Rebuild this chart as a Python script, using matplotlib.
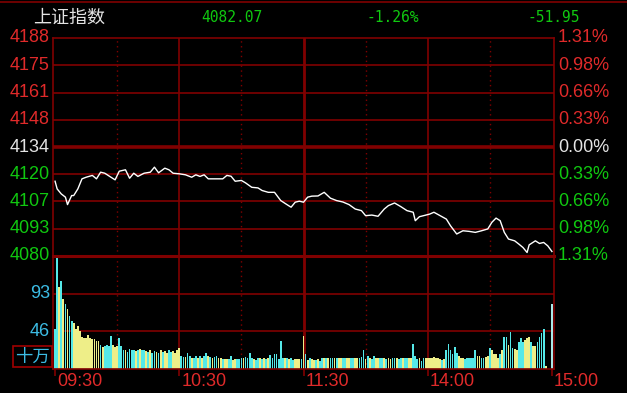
import numpy as np
import matplotlib.pyplot as plt
from matplotlib.patches import Rectangle
from matplotlib.lines import Line2D

plt.rcParams['font.family'] = ['Liberation Sans', 'DejaVu Sans']
# ================================================
# HEADER / AXIS TEXT
# ================================================
name      = '上证指数'
pre_close = 4134.02
pct_max   = 1.31
last_txt  = '4082.07'
pct_txt   = '-1.26%'
chg_txt   = '-51.95'

price_lbl = ['4188', '4175', '4161', '4148', '4134', '4120', '4107', '4093', '4080']
pct_lbl   = ['1.31%', '0.98%', '0.66%', '0.33%', '0.00%', '0.33%', '0.66%', '0.98%', '1.31%']
vol_lbl   = ['93', '46']
vol_unit  = '十万'
time_lbl  = ['09:30', '10:30', '11:30', '14:00', '15:00']
time_pos  = [0, 60, 120, 180, 240]     # minutes since open
# ================================================
# PRICE (minute, index level)
# ================================================
t_min = [0, 1, 3, 5, 6, 8, 9, 11, 13, 15,
         18, 20, 22, 24, 27, 29, 31, 34, 36, 38,
         40, 43, 46, 48, 50, 53, 55, 57, 60, 63,
         66, 68, 70, 72, 74, 78, 81, 83, 85, 87,
         90, 92, 95, 98, 100, 103, 106, 109, 112, 114,
         116, 118, 120, 122, 124, 127, 130, 133, 136, 139,
         142, 145, 148, 150, 153, 156, 159, 161, 164, 167,
         170, 173, 174, 176, 178, 181, 183, 186, 189, 191,
         194, 197, 200, 203, 206, 209, 211, 213, 215, 217,
         219, 222, 224, 226, 228, 229, 232, 234, 236, 238,
         240]
price = [4117.0, 4113.2, 4110.7, 4109.1, 4105.4, 4109.9, 4109.9, 4113.2, 4118.2, 4119.0,
         4119.9, 4118.2, 4121.5, 4121.0, 4119.0, 4117.7, 4122.0, 4122.7, 4118.5, 4121.0,
         4119.4, 4121.0, 4121.5, 4124.0, 4121.2, 4123.5, 4122.7, 4121.0, 4120.7, 4120.2,
         4119.0, 4120.2, 4119.4, 4120.2, 4118.2, 4118.2, 4118.2, 4119.9, 4119.5, 4117.0,
         4117.4, 4116.2, 4114.0, 4113.7, 4112.4, 4111.5, 4111.5, 4107.4, 4105.4, 4104.1,
         4106.6, 4107.1, 4106.6, 4109.1, 4109.6, 4109.7, 4111.5, 4108.6, 4107.4, 4106.7,
         4105.4, 4103.2, 4102.4, 4099.9, 4100.2, 4099.6, 4103.2, 4104.9, 4106.2, 4104.4,
         4102.4, 4101.6, 4097.4, 4099.4, 4099.9, 4100.7, 4101.6, 4099.9, 4098.2, 4094.9,
         4090.8, 4092.4, 4092.1, 4091.6, 4092.4, 4093.3, 4096.6, 4098.7, 4097.4, 4091.6,
         4088.3, 4087.4, 4085.8, 4084.1, 4081.6, 4085.4, 4087.4, 4086.1, 4086.6, 4084.9,
         4082.1]
# ================================================
# VOLUME (one bar per minute, x 100k), c = cyan, y = yellow
# ================================================
vol_0930 = [49, 138, 101, 109, 86, 80, 74, 66, 59, 57,
            49, 53, 47, 39, 38, 38, 42, 38, 37, 37,
            34, 35, 30, 27, 29, 30, 29, 41, 30, 27,
            29, 38, 29, 23, 23, 21, 25, 24, 23, 22,
            23, 25, 23, 23, 22, 21, 23, 20, 22, 21,
            20, 24, 21, 22, 20, 23, 21, 22, 20, 23]
vol_1030 = [26, 16, 15, 15, 20, 16, 14, 14, 16, 14,
            16, 14, 16, 20, 16, 15, 14, 15, 16, 14,
            14, 12, 12, 12, 12, 16, 11, 12, 12, 12,
            14, 14, 15, 14, 20, 14, 12, 11, 14, 14,
            12, 14, 12, 14, 17, 14, 18, 18, 12, 35,
            14, 14, 14, 12, 14, 11, 12, 12, 12, 12]
vol_1300 = [41, 18, 11, 13, 12, 11, 11, 12, 10, 14,
            14, 13, 14, 14, 14, 14, 14, 14, 14, 14,
            14, 14, 14, 14, 14, 14, 14, 14, 15, 24,
            12, 16, 14, 12, 16, 14, 14, 14, 14, 14,
            12, 14, 12, 13, 13, 13, 12, 14, 13, 14,
            14, 14, 14, 31, 16, 12, 14, 10, 14, 13]
vol_1400 = [13, 13, 14, 15, 14, 14, 12, 11, 12, 23,
            31, 23, 18, 27, 20, 16, 14, 14, 12, 14,
            14, 14, 14, 23, 16, 16, 14, 14, 15, 16,
            26, 23, 18, 18, 14, 18, 23, 40, 40, 30,
            46, 26, 25, 24, 33, 38, 33, 36, 38, 40,
            33, 29, 29, 33, 40, 45, 49, 4, 0, 0]
vol_1500 = [80]

col_0930 = 'ccycycyccy' 'yyyyyyyyyy' 'yycyccccyy' 'ycccyccccy' 'cyccycyccy' 'cycyyccyyy'
col_1030 = 'yccyccyccy' 'cyccycyccy' 'ycyyccyycc' 'cyccccyccy' 'cycycccccc' 'cycyccyyyc'
col_1300 = 'ycycyycycc' 'ycyccycyyc' 'cyyccyyccc' 'ycyccyyccy' 'cyyccyccyc' 'cyycccyccy'
col_1400 = 'yyyyyyycyc' 'cccccyyycc' 'ccccyyccyy' 'cyyyycyccy' 'ccyycccyyy' 'cyyccccyyy'
col_1500 = 'w'
# ================================================
RED   = '#E02A2A'
GREEN = '#10C810'
WHITE = '#E4E4E4'
GRID  = '#800000'
BLUE  = '#3CBCE4'
bar_c = {'c': '#55E8E8', 'y': '#EEEE88', 'w': '#A8E8E8'}

vol  = vol_0930 + vol_1030 + vol_1300 + vol_1400 + vol_1500
cols = [bar_c[k] for k in col_0930 + col_1030 + col_1300 + col_1400 + col_1500]
mins = np.arange(len(vol))

W, H = 627, 393
fig = plt.figure(figsize=(W/100, H/100), dpi=100, facecolor='black')
L, R = 53, 554
ax_p = fig.add_axes([L/W, 1 - 256/H, (R-L)/W, (256-38)/H], facecolor='black')
ax_v = fig.add_axes([L/W, 1 - 369/H, (R-L)/W, (369-256)/H], facecolor='black', sharex=ax_p)

rng    = pre_close * pct_max / 100
levels = pre_close + np.linspace(rng, -rng, 9)
vmax   = 139.5

for ax in (ax_p, ax_v):
    ax.set_xlim(-1, 241)
    for s in ax.spines.values():
        s.set_color(GRID)
        s.set_linewidth(1.2)
    ax.set_yticks([])
    # vertical grid
    for m in (60, 180):
        ax.axvline(m, color=GRID, lw=1.2, zorder=1)
    ax.axvline(120, color=GRID, lw=2.0, zorder=1)
    for m in (30, 90, 150, 210):
        ax.axvline(m, color=GRID, lw=1.0, ls=(0, (1, 2.5)), zorder=1)

ax_p.set_ylim(levels[-1], levels[0])
ax_p.tick_params(axis='x', length=0, labelbottom=False)
for k, lv in enumerate(levels[1:-1], start=1):
    ax_p.axhline(lv, color=GRID, lw=2.6 if k == 4 else 1.2, zorder=1)
ax_p.plot(t_min, price, color='white', lw=1.0, zorder=3)

ax_v.set_ylim(0, vmax)
ax_v.spines['top'].set_linewidth(2.2)
for lv in (vmax/3, 2*vmax/3):
    ax_v.axhline(lv, color=GRID, lw=1.2, zorder=1)
ax_v.bar(mins, vol, width=0.85, color=cols, lw=0, antialiased=False, zorder=2)
ax_v.set_xticks(time_pos)
ax_v.set_xticklabels([])
ax_v.tick_params(axis='x', length=5, width=1.2, color=GRID, direction='out')

# left / right price labels
ytr = ax_p.get_yaxis_transform()
for k, lv in enumerate(levels):
    c = RED if k < 4 else (WHITE if k == 4 else GREEN)
    ax_p.text(-0.006, lv, price_lbl[k], transform=ytr, ha='right', va='center',
              color=c, fontsize=13, clip_on=False)
    ax_p.text(1.008, lv, pct_lbl[k], transform=ytr, ha='left', va='center',
              color=c, fontsize=13, clip_on=False)

vtr = ax_v.get_yaxis_transform()
for k, lv in enumerate((2*vmax/3, vmax/3)):
    ax_v.text(-0.006, lv, vol_lbl[k], transform=vtr, ha='right', va='center',
              color=BLUE, fontsize=13, clip_on=False)

# unit box
fig.patches.append(Rectangle((13/W, 1 - 367/H), 39/W, 21/H, transform=fig.transFigure,
                             fill=False, edgecolor='#A00000', lw=1.2))
fig.text(32.5/W, 1 - 356.5/H, vol_unit, ha='center', va='center', color=BLUE,
         fontsize=12.5, family=['Noto Sans CJK SC', 'DejaVu Sans'])

# time labels
for lbl, m in zip(time_lbl, time_pos):
    xf = (L + (m + 1) / 242 * (R - L) + 2) / W
    fig.text(xf, 1 - 381/H, lbl, ha='left', va='center', color=RED, fontsize=13)

# header
fig.lines.append(Line2D([0, 1], [1 - 2/H, 1 - 2/H], transform=fig.transFigure,
                        color=GRID, lw=1.2))
fig.text(33/W, 1 - 18/H, name, ha='left', va='center', color=WHITE, fontsize=13,
         family=['Noto Sans CJK SC', 'DejaVu Sans'])
for txt, x in ((last_txt, 201), (pct_txt, 366), (chg_txt, 528)):
    fig.text(x/W, 1 - 18/H, txt, ha='left', va='center', color=GREEN, fontsize=10.5,
             family=['DejaVu Sans Mono'])

fig.savefig('out.png', dpi=100, facecolor='black')
